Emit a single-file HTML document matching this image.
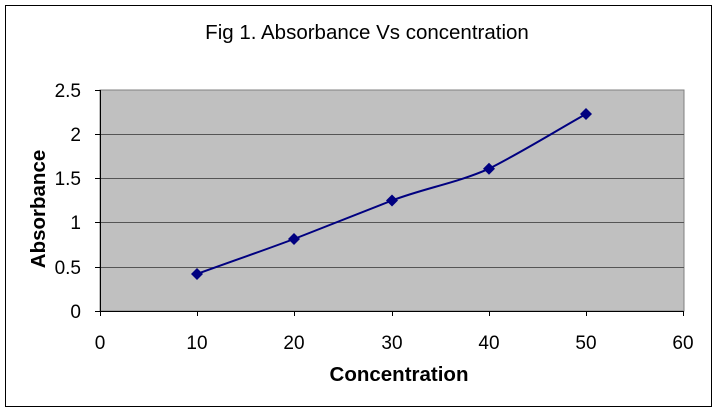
<!DOCTYPE html><html><head><style>body{margin:0;background:#fff}svg{display:block;font-family:"Liberation Sans",sans-serif}</style></head><body>
<svg width="719" height="414" viewBox="0 0 719 414">
<rect x="5.5" y="5.5" width="706" height="401" fill="#fff" stroke="#000"/>
<text x="367" y="39" font-size="20.5" text-anchor="middle">Fig 1. Absorbance Vs concentration</text>
<rect x="100" y="90" width="584" height="221" fill="#c0c0c0" stroke="#808080"/>
<g stroke="#555" stroke-width="1">
<line x1="100" y1="134.5" x2="684" y2="134.5"/><line x1="100" y1="178.5" x2="684" y2="178.5"/>
<line x1="100" y1="222.5" x2="684" y2="222.5"/><line x1="100" y1="267.5" x2="684" y2="267.5"/>
</g>
<g stroke="#000"><line x1="100.5" y1="90" x2="100.5" y2="316"/><line x1="95" y1="311.5" x2="684" y2="311.5"/>
<line x1="95" y1="90.5" x2="100" y2="90.5"/><line x1="95" y1="134.5" x2="100" y2="134.5"/><line x1="95" y1="178.5" x2="100" y2="178.5"/><line x1="95" y1="222.5" x2="100" y2="222.5"/><line x1="95" y1="267.5" x2="100" y2="267.5"/>
<line x1="197.5" y1="311" x2="197.5" y2="316"/><line x1="294.5" y1="311" x2="294.5" y2="316"/><line x1="392.5" y1="311" x2="392.5" y2="316"/><line x1="489.5" y1="311" x2="489.5" y2="316"/><line x1="586.5" y1="311" x2="586.5" y2="316"/><line x1="683.5" y1="311" x2="683.5" y2="316"/></g>
<g font-size="19" text-anchor="end"><text x="81" y="97">2.5</text><text x="81" y="141">2</text><text x="81" y="185">1.5</text><text x="81" y="229">1</text><text x="81" y="274">0.5</text><text x="81" y="318">0</text></g>
<g font-size="19" text-anchor="middle"><text x="100" y="349">0</text><text x="197" y="349">10</text><text x="294" y="349">20</text><text x="392" y="349">30</text><text x="489" y="349">40</text><text x="586" y="349">50</text><text x="683" y="349">60</text></g>
<text x="399" y="381" font-size="20.5" font-weight="bold" text-anchor="middle">Concentration</text>
<text transform="translate(45,209) rotate(-90)" font-size="20.5" font-weight="bold" text-anchor="middle">Absorbance</text>
<path d="M197,274 C230,262 262,251 294,239 C327,226 360,213 392,200.5 C425,188 457,183 489,168.7 C522,152 554,132 586,114" fill="none" stroke="#000080" stroke-width="2"/>
<g fill="#000080"><path d="M197,268 L203,274 L197,280 L191,274Z"/><path d="M294,233 L300,239 L294,245 L288,239Z"/><path d="M392,194.5 L398,200.5 L392,206.5 L386,200.5Z"/><path d="M489,162.7 L495,168.7 L489,174.7 L483,168.7Z"/><path d="M586,108 L592,114 L586,120 L580,114Z"/></g>
</svg></body></html>
